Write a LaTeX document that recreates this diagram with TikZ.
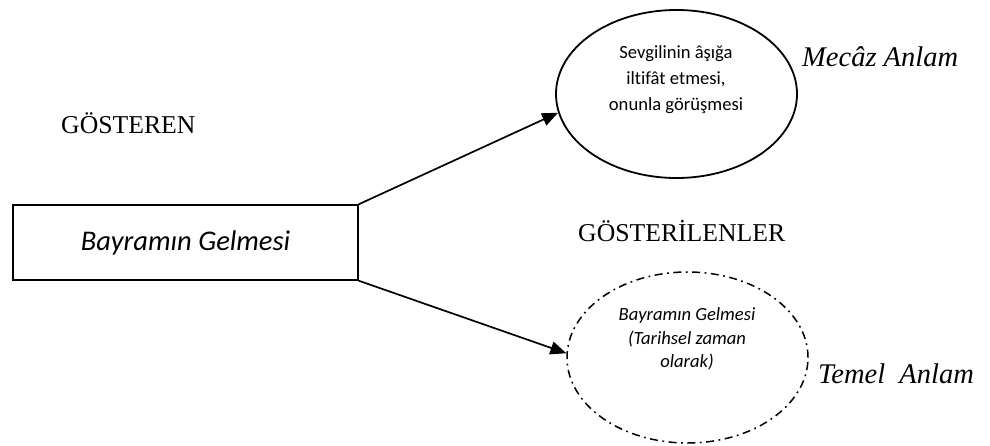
\documentclass[tikz,border=0pt]{standalone}
\usepackage{fontspec}
\setmainfont{Liberation Serif}
\newfontfamily\calibri[Ligatures=NoCommon]{Carlito}
\usetikzlibrary{shapes.geometric,arrows.meta}

\tikzset{
  headline/.style={font=\fontsize{25.7}{30}\selectfont, inner sep=0pt, anchor=base west},
  meaning/.style={font=\fontsize{28.5}{32}\selectfont\itshape, inner sep=0pt, anchor=base west},
  signbox/.style={draw, line width=1.4pt, minimum width=345pt, minimum height=75pt, inner sep=0pt,
    font=\calibri\fontsize{28.5}{32}\selectfont\itshape},
  oval/.style={ellipse, draw, line width=1.8pt, inner sep=0pt},
  dashoval/.style={ellipse, draw, line width=1.5pt, inner sep=0pt,
    dash pattern=on 8pt off 4.5pt on 1.8pt off 4.5pt},
  innertext/.style={align=center, inner sep=0pt, font=\calibri\fontsize{18.6}{26}\selectfont},
  link/.style={line width=1.7pt, -{Triangle[length=16pt,width=13pt]}}
}

\begin{document}
\begin{tikzpicture}[x=1pt,y=-1pt]
  \useasboundingbox (0,0) rectangle (990,446);

  % labels
  \node[headline] (gosteren) at (61,134) {GÖSTEREN};
  \node[headline] (gosterilen) at (578,242) {GÖSTERİLENLER};
  \node[meaning] (mecaz) at (802,66.7) {Mecâz Anlam};
  \node[meaning] (temel) at (818,383) {Temel~~Anlam};

  % signifier
  \node[signbox] (sign) at (185.5,242.5) {Bayramın Gelmesi};

  % figurative meaning
  \node[oval, minimum width=241pt, minimum height=168pt] (figur) at (676.5,94) {};
  \node[innertext] (figtext) at (676,80) {Sevgilinin âşığa\\iltifât etmesi,\\onunla görüşmesi};

  % literal meaning
  \node[dashoval, minimum width=241pt, minimum height=171pt] (literal) at (687.5,357.5) {};
  \node[innertext, font=\calibri\fontsize{18.6}{23.5}\selectfont\itshape] (littext) at (687,339)
    {Bayramın Gelmesi\\(Tarihsel zaman\\olarak)};

  % connectors
  \draw[link] (sign.north east) -- (figur.189);
  \draw[link] (sign.south east) -- (literal.178);
\end{tikzpicture}
\end{document}
